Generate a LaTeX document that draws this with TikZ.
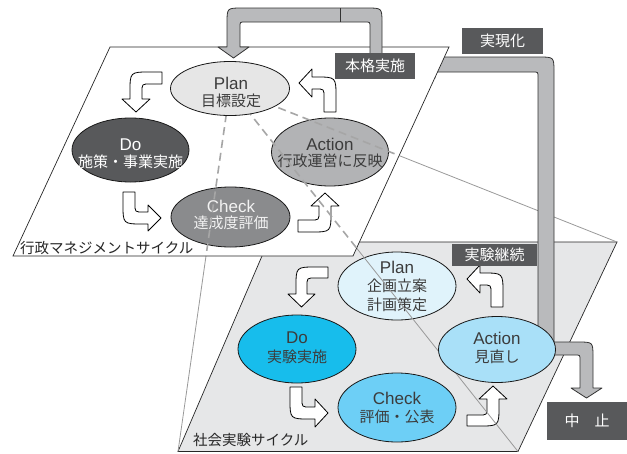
\documentclass[tikz,border=0pt]{standalone}
\usepackage{fontspec}
\setmainfont{Liberation Sans}
\newfontfamily\jpfont{Noto Sans CJK JP}
\usetikzlibrary{shapes.geometric}
\definecolor{lpgc}{HTML}{E6E7E8}
\definecolor{pipec}{HTML}{B9BABC}
\definecolor{lblc}{HTML}{58595B}
\definecolor{uplanc}{HTML}{E6E6E6}
\definecolor{udoc}{HTML}{58595B}
\definecolor{ucheckc}{HTML}{8A8B8D}
\definecolor{uactc}{HTML}{B2B3B5}
\definecolor{lplanc}{HTML}{E0F3FB}
\definecolor{ldoc}{HTML}{17BDEC}
\definecolor{lcheckc}{HTML}{6DCFF6}
\definecolor{lactc}{HTML}{A9E0F8}
\definecolor{txtc}{HTML}{3C3C3C}
\newcommand\enw[1]{{\fontsize{17}{17}\selectfont #1}}
\newcommand\jaw[1]{{\jpfont\fontsize{15}{15}\selectfont #1}}
\tikzset{
 pg/.style={draw=black!85, line width=0.7pt},
 ell/.style={ellipse, draw=black!90, line width=0.8pt, inner sep=0pt},
 warrow/.style={draw=black, fill=white, line width=0.8pt, line join=round},
 pipe/.style={draw=black!80, fill=pipec, line width=0.8pt, line join=round},
 proj/.style={draw=black!40, line width=0.8pt},
 projd/.style={draw=black!35, line width=1.6pt, dash pattern=on 8pt off 5pt},
 utxt/.style={align=center, inner sep=0pt, font=\fontsize{15}{16.5}\selectfont},
 ltxt/.style={align=center, inner sep=0pt, font=\fontsize{15}{18.5}\selectfont, text=txtc},
 lbl/.style={fill=lblc, text=white, inner sep=0pt, font=\jpfont\fontsize{15}{15}\selectfont},
 cyc/.style={inner sep=0pt, text=black!85, font=\jpfont\fontsize{14.5}{14.5}\selectfont},
}
\begin{document}
\begin{tikzpicture}[x=1pt,y=-1pt]
\useasboundingbox (0,0) rectangle (627,453);
% corners
\coordinate (LTL) at (268,242);
\coordinate (LTR) at (617,242);
\coordinate (LBR) at (518,451.5);
\coordinate (LBL) at (178,451.5);
\coordinate (UTL) at (110,47);
\coordinate (UTR) at (449,47);
\coordinate (UBR) at (353,256);
\coordinate (UBL) at (13,256);
\coordinate (apex) at (230,88.5);
% lower plane
\draw[pg, fill=lpgc] (LTL) -- (LTR) -- (LBR) -- (LBL) -- cycle;
% lower ellipses
\node[ell, fill=lplanc, minimum width=118pt, minimum height=68pt] (lplan) at (397,286) {};
\node[ell, fill=ldoc, minimum width=118pt, minimum height=68pt] (ldo) at (297,349) {};
\node[ell, fill=lcheckc, minimum width=118pt, minimum height=69pt] (lcheck) at (397,407.5) {};
\node[ltxt] (lplant) at (397,286) {\enw{Plan}\\\jaw{企画立案}\\\jaw{計画策定}};
\node[ltxt] (ldot) at (297,348) {\enw{Do}\\\jaw{実験実施}};
\node[ltxt] (lcheckt) at (397,408) {\enw{Check}\\\jaw{評価・公表}};
% lower arrows
\draw[warrow] (328,267) -- (316,267) .. controls (296,267) .. (296,287) -- (296,294) -- (288,294) -- (301.5,307) -- (315,294) -- (307,294) -- (307,286) .. controls (307,278) .. (315,278) -- (328,278) -- cycle;
\draw[warrow] (290,387) -- (290,399) .. controls (290,419) .. (310,419) -- (315,419) -- (315,427) -- (328,413) -- (315,399) -- (315,407) -- (310,407) .. controls (302,407) .. (302,399) -- (302,387) -- cycle;
\draw[warrow] (467,426) -- (479,426) .. controls (499,426) .. (499,406) -- (499,399) -- (507,399) -- (493,386) -- (479,399) -- (487,399) -- (487,407) .. controls (487,415) .. (479,415) -- (467,415) -- cycle;
\draw[warrow] (503,307) -- (503,293) .. controls (503,273) .. (483,273) -- (480,273) -- (480,265) -- (467,279) -- (480,293) -- (480,285) -- (483,285) .. controls (491,285) .. (491,293) -- (491,307) -- cycle;
% projection lines (solid)
\draw[proj] (apex) -- (LTR);
\draw[proj] (apex) -- (LBR);
\draw[proj] (apex) -- (LBL);
% right pipes
\draw[pipe] (538,345) -- (538,77) .. controls (538,72) .. (533,72) -- (435,72) -- (435,78) -- (415,65) -- (435,52) -- (435,57) -- (539,57) .. controls (554,57) .. (554,72) -- (554,345) -- cycle;
\draw[pipe] (545,342) -- (578,342) .. controls (593,342) .. (593,357) -- (593,388) -- (602,388) -- (586.5,398) -- (571,388) -- (580,388) -- (580,360) .. controls (580,355) .. (575,355) -- (545,355) -- cycle;
% lower action
\node[ell, fill=lactc, minimum width=117pt, minimum height=66pt] (laction) at (497,349.5) {};
\node[ltxt] (lactiont) at (497,348) {\enw{Action}\\\jaw{見直し}};
% upper plane
\draw[pg, fill=white] (UTL) -- (UTR) -- (UBR) -- (UBL) -- cycle;
\node[ell, fill=udoc, minimum width=117pt, minimum height=64pt] (udo) at (130.5,150) {};
\node[ell, fill=ucheckc, minimum width=119pt, minimum height=60pt] (ucheck) at (230.5,217) {};
\node[ell, fill=uactc, minimum width=117pt, minimum height=68pt] (uaction) at (330,152) {};
\node[utxt, text=white] (udot) at (130.5,154) {\enw{Do}\\\jaw{施策・事業実施}};
\node[utxt, text=white!95!black] (ucheckt) at (231,215) {\enw{Check}\\\jaw{達成度評価}};
\node[utxt, text=txtc] (uactiont) at (330,153) {\enw{Action}\\\jaw{行政運営に反映}};
% upper arrows
\draw[warrow] (162,72) -- (150,72) .. controls (130,72) .. (130,92) -- (130,99) -- (122,99) -- (136,112) -- (150,99) -- (142,99) -- (142,92) .. controls (142,84) .. (150,84) -- (162,84) -- cycle;
\draw[warrow] (123,192) -- (123,204) .. controls (123,224) .. (143,224) -- (148,224) -- (148,231) -- (161,218) -- (148,205) -- (148,212) -- (143,212) .. controls (135,212) .. (135,204) -- (135,192) -- cycle;
\draw[warrow] (298,232) -- (311,232) .. controls (331,232) .. (331,212) -- (331,206) -- (339,206) -- (325,193) -- (311,206) -- (319,206) -- (319,212) .. controls (319,220) .. (311,220) -- (298,220) -- cycle;
\draw[warrow] (336,112) -- (336,97) .. controls (336,77) .. (316,77) -- (312,77) -- (312,69) -- (299,83) -- (312,97) -- (312,89) -- (316,89) .. controls (324,89) .. (324,97) -- (324,112) -- cycle;
% dashed projection lines inside upper plane
\begin{scope}
\clip (UTL) -- (UTR) -- (UBR) -- (UBL) -- cycle;
\draw[projd] (apex) -- (LTR);
\draw[projd] (apex) -- (LBR);
\draw[projd] (apex) -- (LBL);
\end{scope}
% upper plan
\node[ell, fill=uplanc, minimum width=119pt, minimum height=54pt] (uplan) at (apex) {};
\node[utxt, text=txtc] (uplant) at (231,92.5) {\enw{Plan}\\\jaw{目標設定}};
% top pipe
\draw[pipe] (370,56) -- (370,27) .. controls (370,22) .. (365,22) -- (245,22) .. controls (240,22) .. (240,27) -- (240,47) -- (249,47) -- (233.5,58) -- (218,47) -- (227,47) -- (227,23) .. controls (227,8) .. (242,8) -- (367,8) .. controls (382,8) .. (382,23) -- (382,56) -- cycle;
\draw[draw=black!80, line width=0.8pt] (340,8) -- (340,22);
% labels
\node[lbl, minimum width=80pt, minimum height=26pt] (honkaku) at (375,66) {本格実施};
\node[lbl, minimum width=81pt, minimum height=26pt] (jitsugen) at (502.5,41) {実現化};
\node[lbl, minimum width=85pt, minimum height=22pt] (keizoku) at (494.5,255) {実験継続};
\node[lbl, minimum width=80pt, minimum height=38pt] (chushi) at (587,421) {中\hspace{1em}止};
\node[cyc, anchor=west] (gyosei) at (20,248.5) {行政マネジメントサイクル};
\node[cyc, anchor=west] (shakai) at (193,440) {社会実験サイクル};
\end{tikzpicture}
\end{document}
